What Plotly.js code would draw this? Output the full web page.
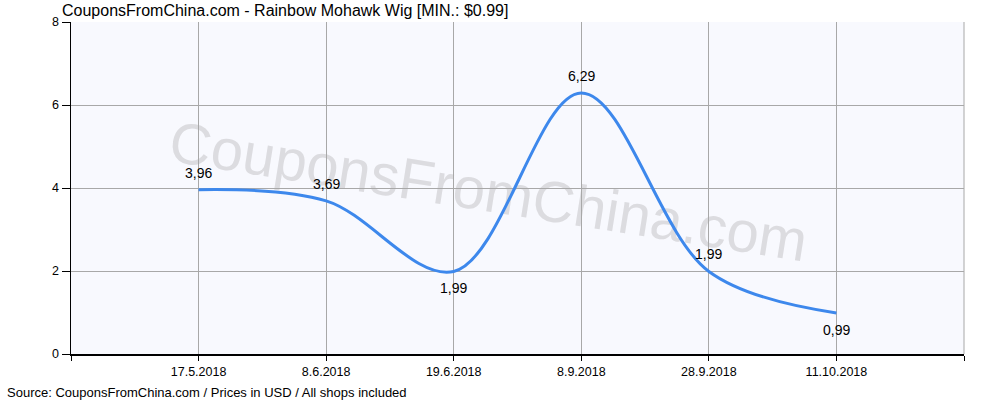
<!DOCTYPE html>
<html>
<head>
<meta charset="utf-8">
<script src="https://cdn.plot.ly/plotly-3.0.1.min.js"></script>
<style>html,body{margin:0;padding:0;background:#fff;}#chart{width:1000px;height:400px;}</style>
</head>
<body>
<div id="chart"></div>
<script>
const dates = ['17.5.2018', '8.6.2018', '19.6.2018', '8.9.2018', '28.9.2018', '11.10.2018'];
const prices = [3.96, 3.69, 1.99, 6.29, 1.99, 0.99];
const priceLabels = ['3,96', '3,69', '1,99', '6,29', '1,99', '0,99'];
const labelSide = [1, 1, -1, 1, 1, -1];
const yTicks = [0, 2, 4, 6, 8];

const idx = dates.map((d, i) => i);
const font = 'Liberation Sans, Arial, sans-serif';

const trace = {
  x: idx, y: prices, type: 'scatter', mode: 'lines',
  line: {color: '#3d88ec', width: 3, shape: 'spline', smoothing: 1},
  hoverinfo: 'skip'
};

const annotations = idx.map(i => ({
  x: i, y: prices[i], xref: 'x', yref: 'y', text: priceLabels[i],
  showarrow: false, yshift: 17 * labelSide[i],
  font: {family: font, size: 14, color: '#000'}
}));
annotations.push({
  xref: 'paper', yref: 'paper', x: -0.074, y: -0.145, xanchor: 'left', yanchor: 'bottom',
  text: 'Source: CouponsFromChina.com / Prices in USD / All shops included',
  showarrow: false, font: {family: font, size: 13, color: '#000'}
});

const layout = {
  width: 1000, height: 400,
  margin: {l: 71, r: 36, t: 22, b: 46},
  paper_bgcolor: '#ffffff', plot_bgcolor: '#f8f9fe',
  showlegend: false,
  title: {text: 'CouponsFromChina.com - Rainbow Mohawk Wig [MIN.: $0.99]',
    x: 0.062, xanchor: 'left', y: 0.975, yanchor: 'middle',
    font: {family: font, size: 16, color: '#000'}},
  xaxis: {
    range: [-1, 6], tickmode: 'array',
    tickvals: [-1].concat(idx, [6]), ticktext: [''].concat(dates, ['']),
    showgrid: true, gridcolor: '#a8a8a8', gridwidth: 1,
    showline: true, linecolor: '#000', linewidth: 1.5,
    ticks: 'outside', ticklen: 5, tickcolor: '#000',
    tickfont: {family: font, size: 12.5, color: '#000'},
    zeroline: false, fixedrange: true
  },
  yaxis: {
    range: [0, 8], tickmode: 'array', tickvals: yTicks, ticktext: yTicks.map(String),
    showgrid: true, gridcolor: '#a8a8a8', gridwidth: 1,
    showline: true, linecolor: '#000', linewidth: 1.5,
    ticks: 'outside', ticklen: 8, tickcolor: '#000',
    tickfont: {family: font, size: 12.5, color: '#000'},
    zeroline: false, fixedrange: true
  },
  shapes: [
    {type: 'line', xref: 'paper', yref: 'paper', x0: 1, x1: 1, y0: 0, y1: 1,
     line: {color: '#a8a8a8', width: 1}, layer: 'below'},
    {type: 'rect', xref: 'x', yref: 'y', x0: 2.28, x1: 2.28, y0: 4.05, y1: 4.05,
     line: {width: 0}, layer: 'below',
     label: {text: 'CouponsFromChina.com', textangle: 9, textposition: 'middle center',
       font: {family: font, size: 58, color: '#dcdce0'}}}
  ],
  annotations: annotations
};

Plotly.newPlot('chart', [trace], layout, {displayModeBar: false, staticPlot: true});
</script>
</body>
</html>
